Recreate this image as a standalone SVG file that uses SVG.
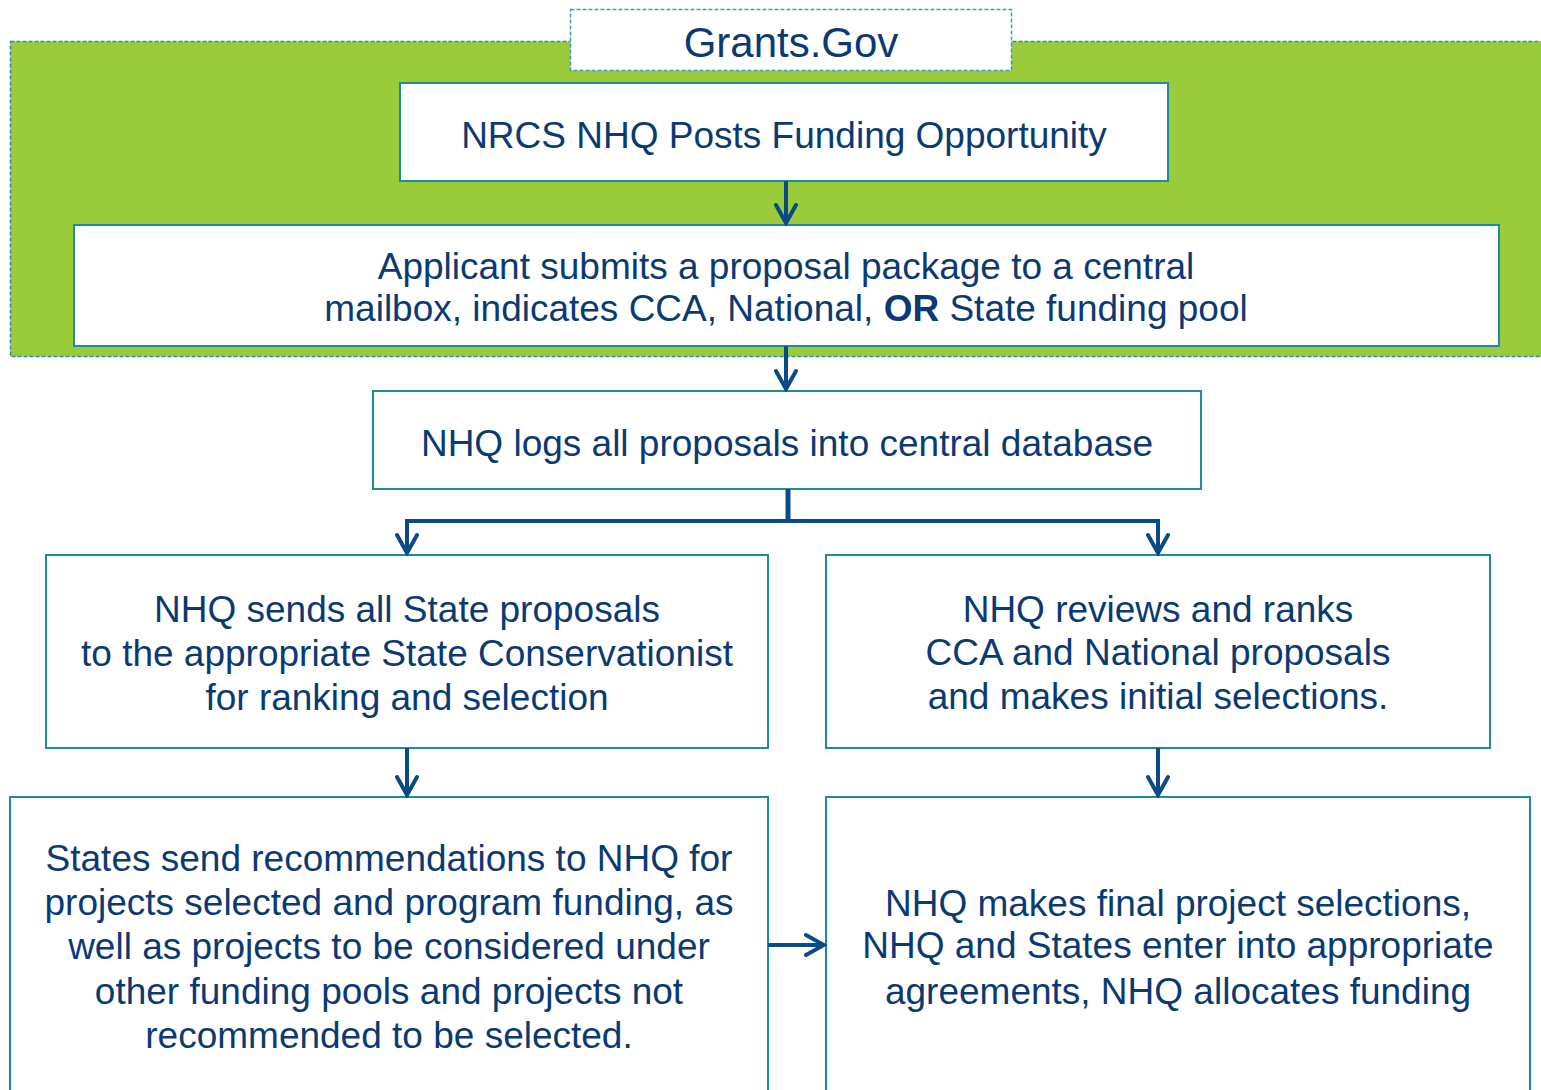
<svg xmlns="http://www.w3.org/2000/svg" width="1541" height="1090" viewBox="0 0 1541 1090">
<style>
.box{fill:#fff;stroke:#1f8a9b;stroke-width:2}
.t{font-family:"Liberation Sans",Arial,sans-serif;font-size:37px;fill:#0b3a73;text-anchor:middle}
.c{stroke:#0a4a85;stroke-width:4;fill:none}
</style>
<defs>
<marker id="ah" viewBox="0 0 24 26" refX="21" refY="13" markerWidth="24" markerHeight="26" markerUnits="userSpaceOnUse" orient="auto">
<path d="M3,3 L21,13 L3,23" fill="none" stroke="#0a4a85" stroke-width="4" stroke-linecap="round" stroke-linejoin="miter"/>
</marker>
</defs>
<rect id="green-region" x="10.5" y="41.5" width="1540" height="315" fill="#9acb3b" stroke="#2a8fa6" stroke-width="1.5" stroke-dasharray="4 2"/>
<g id="grants-gov">
<rect x="570.5" y="9.5" width="441" height="61" fill="#fff" stroke="#3aa0b0" stroke-width="1.5" stroke-dasharray="4 2"/>
<text class="t" x="791" y="57" style="font-size:42px">Grants.Gov</text>
</g>
<g id="nrcs-posts">
<rect class="box" x="400" y="83" width="768" height="98"/>
<text class="t" x="784" y="148">NRCS NHQ Posts Funding Opportunity</text>
</g>
<g id="applicant-submits">
<rect class="box" x="74" y="225" width="1425" height="121"/>
<text class="t" x="786" y="279">Applicant submits a proposal package to a central</text>
<text class="t" x="786" y="321">mailbox, indicates CCA, National, <tspan font-weight="bold">OR</tspan> State funding pool</text>
</g>
<g id="nhq-logs">
<rect class="box" x="373" y="391" width="828" height="98"/>
<text class="t" x="787" y="456">NHQ logs all proposals into central database</text>
</g>
<g id="nhq-sends-state">
<rect class="box" x="46" y="555" width="722" height="193"/>
<text class="t" x="407" y="622">NHQ sends all State proposals</text>
<text class="t" x="407" y="666">to the appropriate State Conservationist</text>
<text class="t" x="407" y="710">for ranking and selection</text>
</g>
<g id="nhq-reviews">
<rect class="box" x="826" y="555" width="664" height="193"/>
<text class="t" x="1158" y="622">NHQ reviews and ranks</text>
<text class="t" x="1158" y="665">CCA and National proposals</text>
<text class="t" x="1158" y="709">and makes initial selections.</text>
</g>
<g id="states-send">
<rect class="box" x="10" y="797" width="758" height="310"/>
<text class="t" x="389" y="871">States send recommendations to NHQ for</text>
<text class="t" x="389" y="915">projects selected and program funding, as</text>
<text class="t" x="389" y="959">well as projects to be considered under</text>
<text class="t" x="389" y="1004">other funding pools and projects not</text>
<text class="t" x="389" y="1048">recommended to be selected.</text>
</g>
<g id="nhq-final">
<rect class="box" x="826" y="797" width="704" height="310"/>
<text class="t" x="1178" y="916">NHQ makes final project selections,</text>
<text class="t" x="1178" y="958">NHQ and States enter into appropriate</text>
<text class="t" x="1178" y="1004">agreements, NHQ allocates funding</text>
</g>
<g id="connectors">
<line class="c" x1="786" y1="181" x2="786" y2="223" marker-end="url(#ah)"/>
<line class="c" x1="786" y1="346" x2="786" y2="389" marker-end="url(#ah)"/>
<line class="c" x1="788" y1="489" x2="788" y2="521" style="stroke-width:5"/>
<polyline class="c" points="407,553 407,521 1158,521 1158,553"/>
<line class="c" x1="407" y1="523" x2="407" y2="553" marker-end="url(#ah)"/>
<line class="c" x1="1158" y1="523" x2="1158" y2="553" marker-end="url(#ah)"/>
<line class="c" x1="407" y1="748" x2="407" y2="795" marker-end="url(#ah)"/>
<line class="c" x1="1158" y1="748" x2="1158" y2="795" marker-end="url(#ah)"/>
<line class="c" x1="768" y1="945" x2="824" y2="945" marker-end="url(#ah)"/>
</g>
</svg>
